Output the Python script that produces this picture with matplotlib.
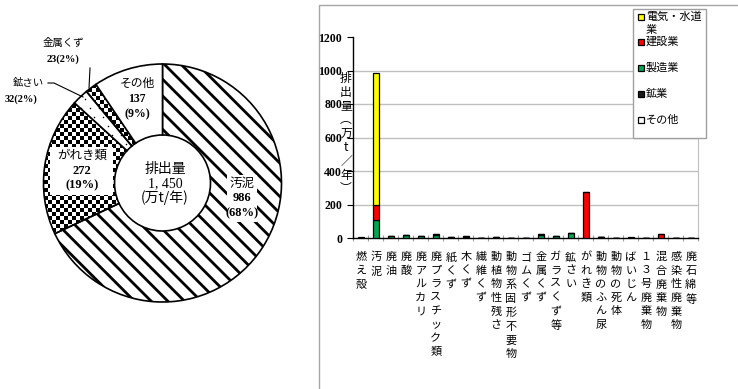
import numpy as np
import matplotlib
matplotlib.use('Agg')
import matplotlib.pyplot as plt
from matplotlib.patches import Rectangle

JP = 'Noto Sans CJK JP'
SERIF = ['Liberation Serif', 'Noto Sans CJK JP']
plt.rcParams['font.family'] = [JP, 'DejaVu Sans']
plt.rcParams['hatch.linewidth'] = 2.0

# ---- donut: total emissions by waste type ----
pie_labels = ['汚泥', 'がれき類', '鉱さい', '金属くず', 'その他']
pie_values = [986, 272, 32, 23, 137]
pie_pcts = [68, 19, 2, 2, 9]
total_text = '1, 450'

# ---- stacked bars: emissions by waste type and industry ----
categories = ['燃え殻', '汚泥', '廃油', '廃酸', '廃アルカリ', '廃プラスチック類',
              '紙くず', '木くず', '繊維くず', '動植物性残さ', '動物系固形不要物',
              'ゴムくず', '金属くず', 'ガラスくず等', '鉱さい', 'がれき類',
              '動物のふん尿', '動物の死体', 'ばいじん', '１３号廃棄物',
              '混合廃棄物', '感染性廃棄物', '廃石綿等']
other = [0, 0, 2, 0, 0, 2, 0, 0, 0, 0, 0, 0, 0, 0, 0, 0, 3, 0.3, 0, 0, 0, 2, 0]
mining = [0] * 23
manufacturing = [1, 107, 12, 19, 11, 18, 4, 3, 1, 4, 0, 1, 20, 11, 32, 0, 0, 0, 2, 0, 2, 0, 0]
construction = [0, 88, 0, 0, 0, 1, 0, 9, 0, 0, 0, 0, 3, 2, 0, 272, 0, 0, 0, 0, 20, 0, 1.7]
electric = [2, 791, 0, 0, 0, 0, 0, 0, 0, 0, 0, 0, 0, 0, 0, 0, 0, 0, 3, 0, 0, 0, 0]

series_names = ['その他', '鉱業', '製造業', '建設業', '電気・水道業']
series_values = [other, mining, manufacturing, construction, electric]
series_colors = ['white', '#1a1a1a', '#00a651', '#ff0000', '#ffff00']
y_ticks = [0, 200, 400, 600, 800, 1000, 1200]

W, H = 738, 389
fig = plt.figure(figsize=(W / 100, H / 100), dpi=100)


def fx(px):
    return px / W


def fy(py):
    return 1 - py / H


# ================= donut chart =================
pax = fig.add_axes([0, 0, 318 / W, 1])
CX, CY, R = 162.5, 183, 119


def dx(px):
    return (px - CX) / R


def dy(py):
    return (CY - py) / R


wedges, _ = pax.pie(pie_values, startangle=90, counterclock=False, radius=1,
                    colors=['white'] * len(pie_values),
                    wedgeprops=dict(width=1 - 48 / 119, edgecolor='black',
                                    linewidth=1.2))
pax.set_xlim(dx(0), dx(318))
pax.set_ylim(dy(389), dy(0))
pax.set_aspect('auto')
pax.axis('off')

# diagonal stripes for sludge
wedges[0].set_hatch('\\\\')

# checkerboard fill for rubble and scrap metal
cell = 4
nx, ny = 318 // cell + 1, 389 // cell + 1
yy, xx = np.mgrid[0:ny, 0:nx]
checker = ((xx + yy) % 2).astype(float)
for w in (wedges[1], wedges[3]):
    w.set_facecolor('none')
    im = pax.imshow(checker, cmap='gray', vmin=0, vmax=1,
                    extent=(dx(0), dx(nx * cell), dy(ny * cell), dy(0)),
                    origin='upper', interpolation='nearest', aspect='auto',
                    zorder=0.5)
    im.set_clip_path(w)

# sparse dots for slag
gx, gy = np.meshgrid(np.arange(0, 318, 9.0), np.arange(0, 389, 9.0))
gx = gx + (np.arange(gx.shape[0])[:, None] % 2) * 4.5
dots = pax.scatter(dx(gx.ravel()), dy(gy.ravel()), s=1.2, color='black',
                   zorder=1.5, linewidths=0)
dots.set_clip_path(wedges[2])
pax.set_xlim(dx(0), dx(318))
pax.set_ylim(dy(389), dy(0))

# white boxes behind inner labels
pax.add_patch(Rectangle((dx(227), dy(222)), 30 / R, 47 / R, facecolor='white',
                        edgecolor='none', zorder=2))
pax.add_patch(Rectangle((dx(50), dy(195)), 63 / R, 48 / R, facecolor='white',
                        edgecolor='none', zorder=2))


def jp(px, py, s, size):
    pax.text(dx(px), dy(py), s, ha='center', va='center', fontsize=size,
             family=[JP], zorder=3)


def num(px, py, s, size):
    pax.text(dx(px), dy(py), s, ha='center', va='center', fontsize=size,
             family=SERIF, weight='bold', zorder=3)


jp(242, 183, pie_labels[0], 9)
num(242, 198, str(pie_values[0]), 9)
num(242, 213, f'({pie_pcts[0]}%)', 9)

jp(82, 155, pie_labels[1], 9)
num(82, 171, str(pie_values[1]), 9)
num(82, 185, f'({pie_pcts[1]}%)', 9)

jp(137, 83, pie_labels[4], 8.5)
num(137, 99, str(pie_values[4]), 8.5)
num(137, 114, f'({pie_pcts[4]}%)', 8.5)

jp(63, 43, pie_labels[3], 7.5)
num(63, 59, f'{pie_values[3]}({pie_pcts[3]}%)', 7.5)

jp(28, 82, pie_labels[2], 7.5)
num(21, 99, f'{pie_values[2]}({pie_pcts[2]}%)', 7.5)

# leader lines
pax.plot([dx(90), dx(89)], [dy(68), dy(88)], color='black', lw=0.8, zorder=3)
pax.plot([dx(48), dx(54), dx(83)], [dy(83), dy(83), dy(97)], color='black',
         lw=0.8, zorder=3)

# centre total
pax.text(dx(165), dy(169), '排出量', ha='center', va='center', fontsize=10,
         family=[JP], zorder=3)
pax.text(dx(165), dy(183.5), total_text, ha='center', va='center', fontsize=10,
         family=SERIF, zorder=3)
pax.text(dx(165), dy(198), '(万t/年)', ha='center', va='center', fontsize=10,
         family=[JP], zorder=3)

# ================= stacked bar chart =================
# chart-area frame
fig.add_artist(Rectangle((fx(318.5), -0.05), 1, fy(5) + 0.05,
                         transform=fig.transFigure, fill=False,
                         edgecolor='#a6a6a6', lw=1, zorder=-1))

bax = fig.add_axes([fx(353.3), fy(238), 345 / W, 201 / H])
x = np.arange(len(categories))
bottom = np.zeros(len(categories))
for vals, col in zip(series_values, series_colors):
    v = np.asarray(vals, dtype=float)
    bax.bar(x, v, bottom=bottom, width=0.4, color=col, edgecolor='black',
            linewidth=0.9, zorder=3)
    bottom += v

bax.set_xlim(-0.5, len(categories) - 0.5)
bax.set_ylim(0, 1200)
bax.set_yticks(y_ticks)
bax.set_yticklabels([str(t) for t in y_ticks], family=SERIF, weight='bold',
                    fontsize=8.5)
bax.tick_params(axis='y', length=4, width=0.8, pad=4, direction='out')
for t in y_ticks[1:-1]:
    bax.axhline(t, color='#c0c0c0', lw=1, zorder=1)

bax.set_xticks(x)
bax.set_xticklabels(['\n'.join(c) for c in categories], fontsize=8,
                    family=[JP], linespacing=1.45, va='top')
bax.tick_params(axis='x', which='major', length=0, pad=10)
bax.set_xticks(np.arange(-0.5, len(categories), 1), minor=True)
bax.tick_params(axis='x', which='minor', length=4, color='#a0a0a0',
                direction='inout', width=0.8)

bax.spines['top'].set_visible(False)
bax.spines['right'].set_color('#c0c0c0')
bax.spines['left'].set_linewidth(1)
bax.spines['bottom'].set_linewidth(1)

# vertical axis title
fig.text(fx(346), fy(72), '\n'.join('排出量︵万t／年︶'), ha='center', va='top',
         fontsize=8.5, family=[JP, 'DejaVu Sans'], linespacing=1.08, zorder=5)

# legend
fig.add_artist(Rectangle((fx(633), fy(138)), 73 / W, 129 / H,
                         transform=fig.transFigure, facecolor='white',
                         edgecolor='#a0a0a0', lw=1, zorder=5))
leg_y = [17, 42, 68, 94, 120]
for name, col, ly in zip(series_names[::-1], series_colors[::-1], leg_y):
    fig.add_artist(Rectangle((fx(638), fy(ly + 3)), 6 / W, 6 / H,
                             transform=fig.transFigure, facecolor=col,
                             edgecolor='black', lw=0.9, zorder=6))
    if name == '電気・水道業':
        fig.text(fx(646), fy(ly), name[:-1], ha='left', va='center',
                 fontsize=8, family=[JP], zorder=6)
        fig.text(fx(646), fy(ly + 13), name[-1], ha='left', va='center',
                 fontsize=8, family=[JP], zorder=6)
    else:
        fig.text(fx(646), fy(ly), name, ha='left', va='center', fontsize=8,
                 family=[JP], zorder=6)

fig.savefig('out.png', dpi=100)
